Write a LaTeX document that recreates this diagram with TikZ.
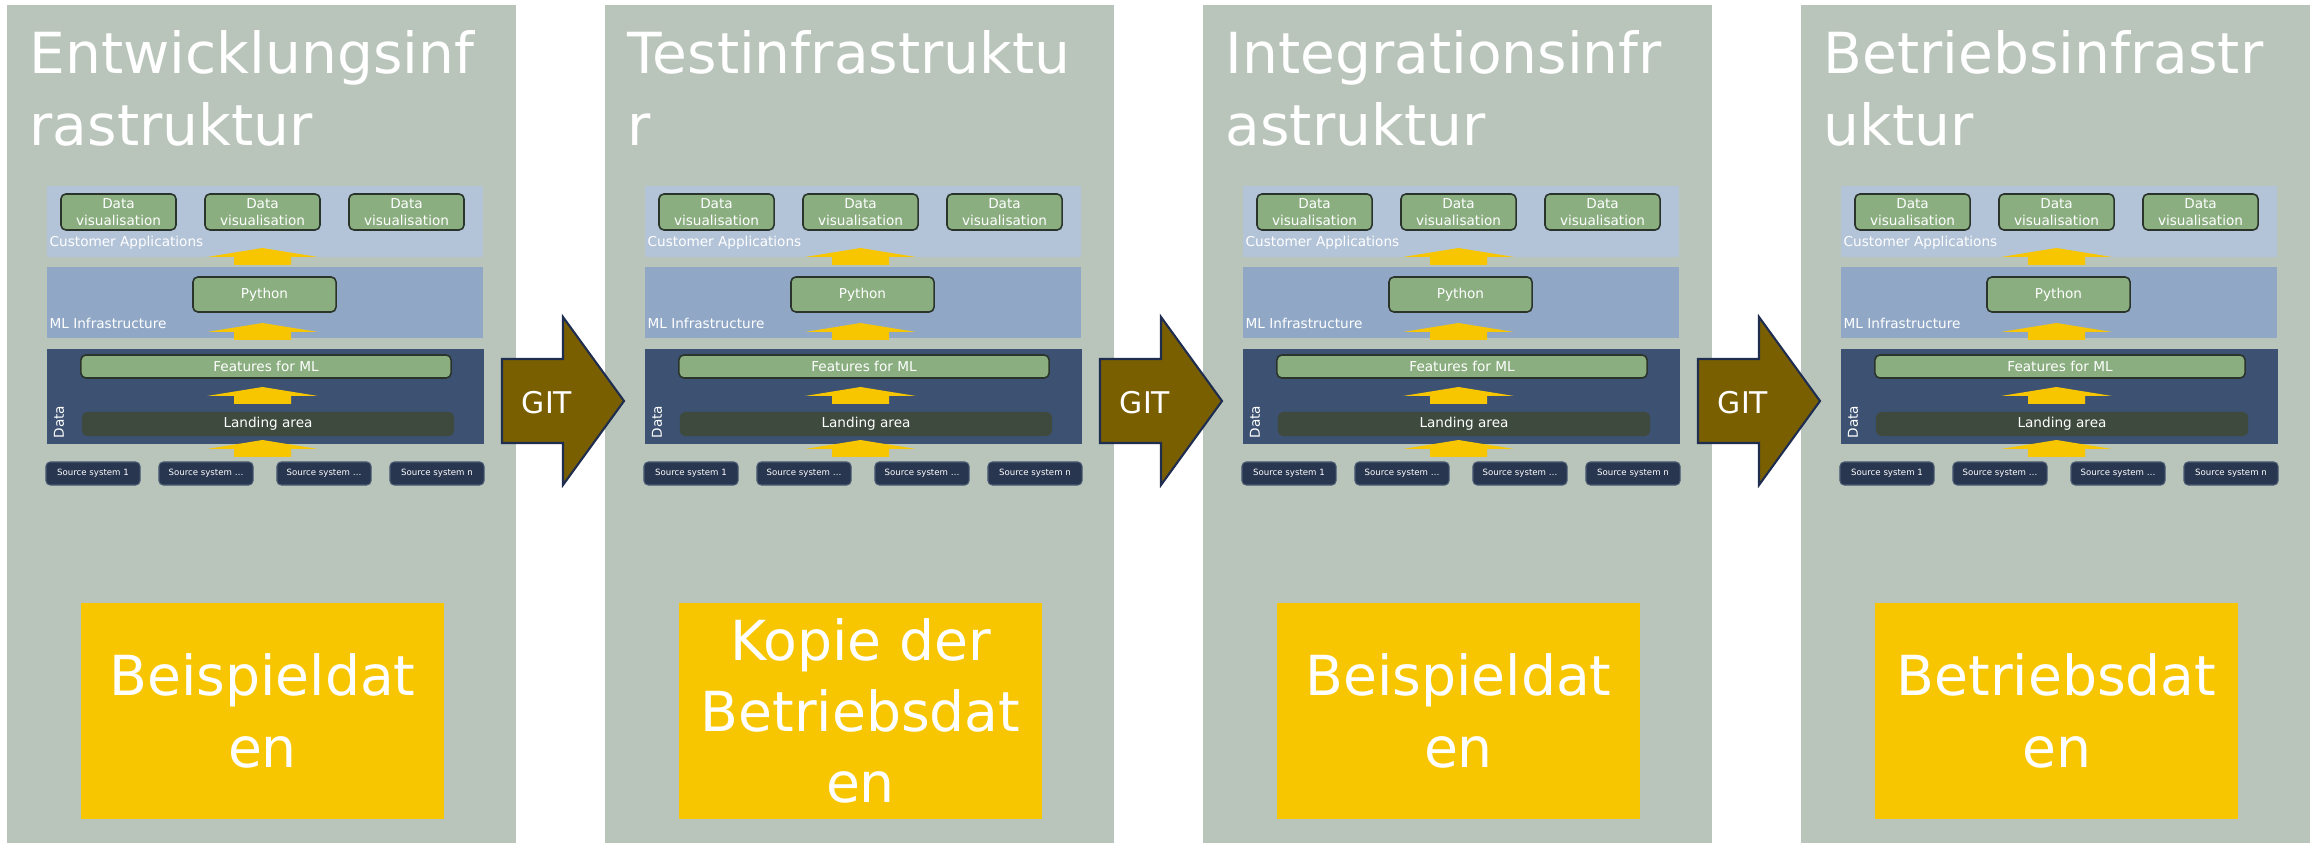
\documentclass[tikz,border=0pt]{standalone}
\usepackage{fontspec}
\setmainfont{DejaVu Sans}

\definecolor{panelgray}{HTML}{B9C4BA}
\definecolor{custblue}{HTML}{B3C4D9}
\definecolor{mlblue}{HTML}{90A8C6}
\definecolor{datablue}{HTML}{3D5272}
\definecolor{boxgreen}{HTML}{8AAE80}
\definecolor{boxline}{HTML}{2B342B}
\definecolor{landgray}{HTML}{3E4A3E}
\definecolor{srcnavy}{HTML}{283650}
\definecolor{srcline}{HTML}{4B5B73}
\definecolor{flowyellow}{HTML}{F8C600}
\definecolor{gitbrown}{HTML}{7A5F00}
\definecolor{gitline}{HTML}{1E2D50}

\tikzset{
	panel/.style={fill=panelgray, inner sep=0pt, minimum width=5.09cm, minimum height=8.38cm},
	title/.style={text=white, align=left, inner sep=0pt, font=\fontsize{16.1}{20.3}\selectfont},
	layer/.style={inner sep=0pt, minimum width=4.36cm, minimum height=0.71cm},
	layerlabel/.style={text=white, inner sep=0pt, font=\fontsize{3.87}{4.84}\selectfont},
	greenbox/.style={fill=boxgreen, draw=boxline, line width=0.45pt, rounded corners=1.4pt, text=white, inner sep=0pt, align=center, font=\fontsize{3.87}{4.84}\selectfont},
	landing/.style={fill=landgray, rounded corners=1.4pt, text=white, inner sep=0pt, minimum width=3.72cm, minimum height=0.24cm, font=\fontsize{3.87}{4.84}\selectfont},
	source/.style={fill=srcnavy, draw=srcline, line width=0.3pt, rounded corners=1.2pt, text=white, inner sep=0pt, minimum width=0.94cm, minimum height=0.23cm, font=\fontsize{2.45}{3}\selectfont},
	sample/.style={fill=flowyellow, text=white, align=center, inner sep=0pt, minimum width=3.63cm, minimum height=2.16cm, font=\fontsize{15.7}{20.3}\selectfont},
	gitarrow/.style={fill=gitbrown, draw=gitline, line width=0.6pt, line join=miter},
	gittext/.style={text=white, inner sep=0pt, font=\fontsize{8.5}{10}\selectfont},
	lift/.pic={\fill[flowyellow] (0,0) -- (55.5,9) -- (28.5,9) -- (28.5,17) -- (-28.5,17) -- (-28.5,9) -- (-55.5,9) -- cycle;}
}

\begin{document}
\begin{tikzpicture}[x=0.01cm, y=-0.01cm]
	\useasboundingbox (0,0) rectangle (2318,843);
	
	\foreach \p/\head/\base in {1/{Entwicklungsinf\\rastruktur}/{Beispieldat\\en}, 2/{Testinfrastruktu\\r}/{Kopie der\\Betriebsdat\\en}, 3/{Integrationsinfr\\astruktur}/{Beispieldat\\en}, 4/{Betriebsinfrastr\\uktur}/{Betriebsdat\\en}}{
	\begin{scope}[shift={({7+598*(\p-1)},0)}]
		\node[panel] (panel\p) at (254.5,424) {};
		\node[title, anchor=north west] (head\p) at (22,30) {\head};
		
		\node[layer, fill=custblue] (ca\p) at (258,221.5) {};
		\node[layerlabel, anchor=base west] (calabel\p) at (42,247) {Customer Applications};
		\foreach \v/\x in {1/111.5, 2/255.5, 3/399.5}
			\node[greenbox, minimum width=1.15cm, minimum height=0.36cm] (vis\p-\v) at (\x,212) {Data\\visualisation};
		
		\node[layer, fill=mlblue] (ml\p) at (258,302.5) {};
		\node[greenbox, minimum width=1.43cm, minimum height=0.35cm] (py\p) at (257.5,294.5) {Python};
		\node[layerlabel, anchor=base west] (mllabel\p) at (42,329) {ML Infrastructure};
		
		\node[layer, fill=datablue, minimum width=4.37cm, minimum height=0.95cm] (data\p) at (258.5,396.5) {};
		\node[greenbox, minimum width=3.70cm, minimum height=0.23cm] (feat\p) at (259,366.5) {Features for ML};
		\node[landing] (land\p) at (261,424) {Landing area};
		\node[layerlabel, rotate=90] (datalabel\p) at (52,422) {Data};
		
		\foreach \s/\x/\name in {1/86/1, 2/199/\dots, 3/317/\dots, 4/430/n}
			\node[source] (src\p-\s) at (\x,473.5) {Source system \name};
		
		\foreach \y in {248,323,387,440}
			\pic at (255.5,\y) {lift};
		
		\node[sample] (sample\p) at (255.5,711) {\base};
	\end{scope}
	}
	
	\foreach \p in {1,2,3}{
	\begin{scope}[shift={({502+598*(\p-1)},401)}]
		\draw[gitarrow] (0,-42) -- (61,-42) -- (61,-84) -- (122,0) -- (61,84) -- (61,42) -- (0,42) -- cycle;
		\node[gittext] (git\p) at (45,2) {GIT};
	\end{scope}
	}
\end{tikzpicture}
\end{document}
